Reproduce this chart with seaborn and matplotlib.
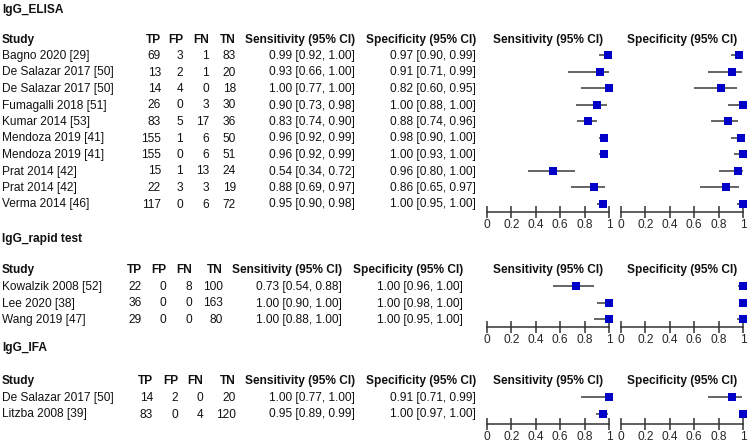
import matplotlib
matplotlib.use("Agg")
import matplotlib.pyplot as plt
import seaborn as sns
import pandas as pd

sns.set_style("white")
plt.rcParams['font.family'] = ['Liberation Sans', 'DejaVu Sans']

# ---- data ----
elisa_study = ["Bagno 2020 [29]", "De Salazar 2017 [50]", "De Salazar 2017 [50]", "Fumagalli 2018 [51]",
               "Kumar 2014 [53]", "Mendoza 2019 [41]", "Mendoza 2019 [41]", "Prat 2014 [42]",
               "Prat 2014 [42]", "Verma 2014 [46]"]
elisa_tp = [69, 13, 14, 26, 83, 155, 155, 15, 22, 117]
elisa_fp = [3, 2, 4, 0, 5, 1, 0, 1, 3, 0]
elisa_fn = [1, 1, 0, 3, 17, 6, 6, 13, 3, 6]
elisa_tn = [83, 20, 18, 30, 36, 50, 51, 24, 19, 72]
elisa_sens = [0.99, 0.93, 1.00, 0.90, 0.83, 0.96, 0.96, 0.54, 0.88, 0.95]
elisa_sens_lo = [0.92, 0.66, 0.77, 0.73, 0.74, 0.92, 0.92, 0.34, 0.69, 0.90]
elisa_sens_hi = [1.00, 1.00, 1.00, 0.98, 0.90, 0.99, 0.99, 0.72, 0.97, 0.98]
elisa_spec = [0.97, 0.91, 0.82, 1.00, 0.88, 0.98, 1.00, 0.96, 0.86, 1.00]
elisa_spec_lo = [0.90, 0.71, 0.60, 0.88, 0.74, 0.90, 0.93, 0.80, 0.65, 0.95]
elisa_spec_hi = [0.99, 0.99, 0.95, 1.00, 0.96, 1.00, 1.00, 1.00, 0.97, 1.00]

rapid_study = ["Kowalzik 2008 [52]", "Lee 2020 [38]", "Wang 2019 [47]"]
rapid_tp = [22, 36, 29]
rapid_fp = [0, 0, 0]
rapid_fn = [8, 0, 0]
rapid_tn = [100, 163, 80]
rapid_sens = [0.73, 1.00, 1.00]
rapid_sens_lo = [0.54, 0.90, 0.88]
rapid_sens_hi = [0.88, 1.00, 1.00]
rapid_spec = [1.00, 1.00, 1.00]
rapid_spec_lo = [0.96, 0.98, 0.95]
rapid_spec_hi = [1.00, 1.00, 1.00]

ifa_study = ["De Salazar 2017 [50]", "Litzba 2008 [39]"]
ifa_tp = [14, 83]
ifa_fp = [2, 0]
ifa_fn = [0, 4]
ifa_tn = [20, 120]
ifa_sens = [1.00, 0.95]
ifa_sens_lo = [0.77, 0.89]
ifa_sens_hi = [1.00, 0.99]
ifa_spec = [0.91, 1.00]
ifa_spec_lo = [0.71, 0.97]
ifa_spec_hi = [0.99, 1.00]

tick_vals = [0, 0.2, 0.4, 0.6, 0.8, 1]
tick_labels = ["0", "0.2", "0.4", "0.6", "0.8", "1"]

# ---- layout (pixels) ----
W, H = 750, 442
FS = 8.6
ROW = 16.5
SQ = "#0000C8"

fig = plt.figure(figsize=(7.5, 4.42), dpi=100)


def px(x, y):
    return x / W, 1 - y / H


def txt(x, y, s, ha="left", bold=False):
    fig.text(*px(x, y), s, ha=ha, va="center", fontsize=FS,
             fontweight="bold" if bold else "normal", color="#111111")


def forest(x0, top, axis_y, n, est, lo, hi):
    # axes: x 0..1 over 122 px, rows by index
    ax = fig.add_axes([x0 / W, 1 - axis_y / H, 122 / W, (axis_y - top) / H])
    df = pd.DataFrame({"est": est, "lo": lo, "hi": hi, "row": range(n)})
    ax.hlines(df["row"], df["lo"], df["hi"], color="#3a3a3a", lw=1.1, zorder=2)
    sns.scatterplot(data=df, x="est", y="row", marker="s", s=30, color=SQ,
                    edgecolor=SQ, linewidth=0, ax=ax, zorder=3, clip_on=False)
    ax.set_xlim(0, 1)
    last = top + ROW / 2 + (n - 1) * ROW
    ax.set_ylim(n - 1 + (axis_y - last) / ROW, -0.5)
    for s in ["top", "left", "right"]:
        ax.spines[s].set_visible(False)
    ax.spines["bottom"].set_color("#333333")
    ax.spines["bottom"].set_linewidth(1.1)
    ax.set_yticks([])
    ax.set_xticks(tick_vals)
    ax.set_xticklabels(tick_labels, fontsize=FS)
    ax.tick_params(axis="x", direction="inout", length=8, width=1.1,
                   color="#333333", pad=1, bottom=True)
    ax.set_xlabel("")
    ax.set_ylabel("")
    ax.patch.set_alpha(0)


def section(title, title_y, head_y, row0, axis_y, cols, study, tp, fp, fn, tn,
            sens, sens_lo, sens_hi, spec, spec_lo, spec_hi):
    tp_x, fp_x, fn_x, tn_x, se_x, sp_x = cols
    txt(2, title_y, title, bold=True)
    txt(2, head_y, "Study", bold=True)
    txt(tp_x, head_y, "TP", ha="right", bold=True)
    txt(fp_x, head_y, "FP", ha="right", bold=True)
    txt(fn_x, head_y, "FN", ha="right", bold=True)
    txt(tn_x, head_y, "TN", ha="right", bold=True)
    txt(se_x, head_y, "Sensitivity (95% CI)", ha="right", bold=True)
    txt(sp_x, head_y, "Specificity (95% CI)", ha="right", bold=True)
    txt(548, head_y, "Sensitivity (95% CI)", ha="center", bold=True)
    txt(682, head_y, "Specificity (95% CI)", ha="center", bold=True)
    for i in range(len(study)):
        y = row0 + i * ROW
        txt(2, y, study[i])
        txt(tp_x, y, str(tp[i]), ha="right")
        txt(fp_x, y, str(fp[i]), ha="right")
        txt(fn_x, y, str(fn[i]), ha="right")
        txt(tn_x, y, str(tn[i]), ha="right")
        txt(se_x, y, f"{sens[i]:.2f} [{sens_lo[i]:.2f}, {sens_hi[i]:.2f}]", ha="right")
        txt(sp_x, y, f"{spec[i]:.2f} [{spec_lo[i]:.2f}, {spec_hi[i]:.2f}]", ha="right")
    n = len(study)
    top = row0 - 1 - ROW / 2
    forest(487, top, axis_y, n, sens, sens_lo, sens_hi)
    forest(621, top, axis_y, n, spec, spec_lo, spec_hi)


section("IgG_ELISA", 10, 40, 56, 212, (161, 183, 209, 236, 355, 476),
        elisa_study, elisa_tp, elisa_fp, elisa_fn, elisa_tn,
        elisa_sens, elisa_sens_lo, elisa_sens_hi, elisa_spec, elisa_spec_lo, elisa_spec_hi)
section("IgG_rapid test", 239, 270, 287, 327, (142, 166, 192, 223, 342, 463),
        rapid_study, rapid_tp, rapid_fp, rapid_fn, rapid_tn,
        rapid_sens, rapid_sens_lo, rapid_sens_hi, rapid_spec, rapid_spec_lo, rapid_spec_hi)
section("IgG_IFA", 348, 381, 398, 424, (153, 178, 203, 236, 355, 476),
        ifa_study, ifa_tp, ifa_fp, ifa_fn, ifa_tn,
        ifa_sens, ifa_sens_lo, ifa_sens_hi, ifa_spec, ifa_spec_lo, ifa_spec_hi)

fig.savefig("out.png", dpi=100)
